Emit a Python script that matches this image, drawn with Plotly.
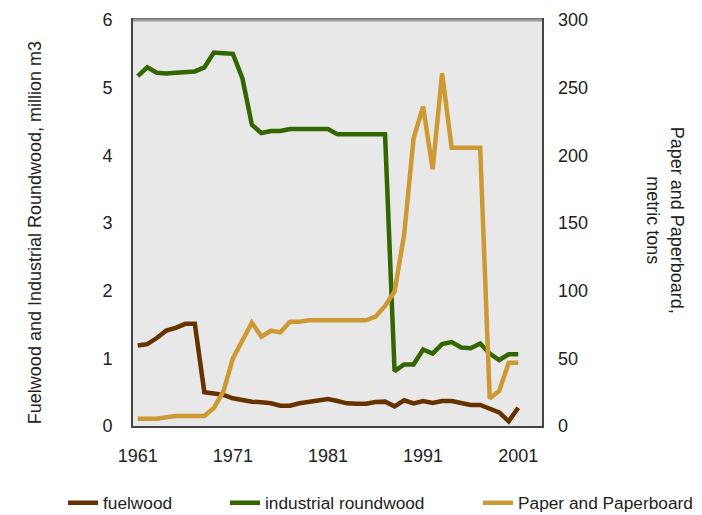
import plotly.graph_objects as go

years = list(range(1961, 2002))
tick_years = [1961, 1971, 1981, 1991, 2001]

fuelwood = [1.19, 1.21, 1.30, 1.41, 1.45, 1.51, 1.51, 0.50, 0.48, 0.46,
            0.41, 0.38, 0.36, 0.35, 0.335, 0.30, 0.30, 0.335, 0.355, 0.39,
            0.40, 0.37, 0.335, 0.33, 0.33, 0.355, 0.36, 0.29, 0.38, 0.335,
            0.37, 0.34, 0.37, 0.37, 0.335, 0.31, 0.31, 0.25, 0.20, 0.07, 0.27]

industrial = [5.17, 5.30, 5.22, 5.21, 5.22, 5.23, 5.24, 5.30, 5.52, 5.51,
              5.50, 5.14, 4.45, 4.33, 4.36, 4.36, 4.39, 4.39, 4.39, 4.39,
              4.39, 4.31, 4.31, 4.31, 4.31, 4.31, 4.31, 0.81, 0.91, 0.91,
              1.13, 1.07, 1.21, 1.24, 1.16, 1.15, 1.22, 1.07, 0.975, 1.06, 1.06]

paper = [5.4, 5.4, 5.4, 6.4, 7.4, 7.4, 7.4, 7.4, 13.3, 25.4,
         50.0, 63.5, 76.4, 66.0, 70.4, 69.2, 77.1, 77.1, 78.1, 78.1,
         78.1, 78.1, 78.1, 78.1, 78.1, 80.8, 88.7, 99.3, 141.0, 212.6,
         236.0, 189.7, 260.6, 205.6, 205.6, 205.6, 205.6, 20.4, 25.9, 46.8, 46.8]

FONT = "Liberation Sans, Arial, sans-serif"
TXT = "#222"
W, H = 694, 507

fig = go.Figure()
fig.add_trace(go.Scatter(x=years, y=fuelwood, name="fuelwood", mode="lines",
                         line=dict(color="#663300", width=4.5), legend="legend"))
fig.add_trace(go.Scatter(x=years, y=industrial, name="industrial roundwood", mode="lines",
                         line=dict(color="#336600", width=4.5), legend="legend2"))
fig.add_trace(go.Scatter(x=years, y=paper, name="Paper and Paperboard", mode="lines",
                         line=dict(color="#CC9933", width=4.5), yaxis="y2", legend="legend3"))


def leg(px):
    return dict(xref="container", yref="container", x=px / W, xanchor="left",
                y=1 - 495 / H, yanchor="middle",
                font=dict(size=17.3, family=FONT, color=TXT),
                bgcolor="rgba(0,0,0,0)", borderwidth=0)


fig.update_layout(
    width=W, height=H,
    margin=dict(l=125, r=160, t=12, b=89, autoexpand=False),
    paper_bgcolor="white",
    plot_bgcolor="#E8E8E8",
    font=dict(family=FONT, size=18, color=TXT),
    showlegend=True,
    legend=leg(55),
    legend2=leg(217),
    legend3=leg(470),
    xaxis=dict(range=[1960.5, 2003.5], tickvals=tick_years, showgrid=False, zeroline=False,
               showline=True, linecolor="#444", linewidth=2, mirror=True,
               ticks="", ticklabelstandoff=12, tickfont=dict(size=18)),
    yaxis=dict(range=[0, 6], tickvals=[0, 1, 2, 3, 4, 5, 6], showgrid=False, zeroline=False,
               showline=True, linecolor="#444", linewidth=2, mirror=True,
               ticks="", ticklabelstandoff=15, tickfont=dict(size=18)),
    yaxis2=dict(range=[0, 300], tickvals=[0, 50, 100, 150, 200, 250, 300], overlaying="y",
                side="right", showgrid=False, zeroline=False, showline=False,
                ticks="", ticklabelstandoff=15, tickfont=dict(size=18)),
    annotations=[
        dict(text="Fuelwood and Industrial Roundwood, million m3", xref="paper", yref="paper",
             x=-0.2396, y=0.475, textangle=-90, showarrow=False, xanchor="center", yanchor="middle",
             font=dict(size=18, family=FONT, color=TXT)),
        dict(text="Paper and Paperboard,<br>metric tons", xref="paper", yref="paper",
             x=1.302, y=0.507, textangle=90, showarrow=False, xanchor="center", yanchor="middle",
             font=dict(size=18, family=FONT, color=TXT)),
    ],
    shapes=[dict(type="line", xref="paper", yref="paper", x0=0, x1=1, y0=1, y1=1,
                 line=dict(color="#999", width=3))],
)

fig.write_html("out.html")
